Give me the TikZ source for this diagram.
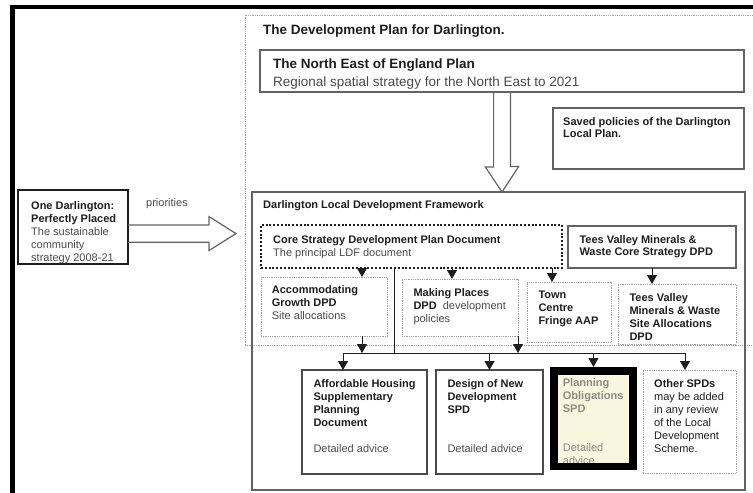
\documentclass[tikz,border=0pt]{standalone}
\usepackage{fontspec}
\setmainfont{Liberation Sans}
\usetikzlibrary{arrows.meta,backgrounds,positioning}
\definecolor{ink}{HTML}{1E1E1E}
\definecolor{softink}{HTML}{4A4A4A}
\definecolor{edgegray}{HTML}{636363}
\definecolor{darkedge}{HTML}{4A4A4A}
\definecolor{faintgray}{HTML}{A0A0A0}
\definecolor{cream}{HTML}{F8F6DF}
\definecolor{fadedink}{HTML}{8C8C80}

\begin{document}
\begin{tikzpicture}[%
    x=1pt, y=-1pt,
    wh/.style 2 args={minimum width=#1, minimum height=#2},
    anybox/.style={inner sep=0pt, outer sep=0pt, anchor=north west},
    solidbox/.style={anybox, draw=edgegray, line width=1.2pt},
    darkbox/.style={anybox, draw=darkedge, line width=1.3pt},
    faintbox/.style={anybox, draw=faintgray, line width=0.8pt, densely dotted},
    corebox/.style={anybox, draw=ink, line width=2.2pt, dash pattern=on 2pt off 1.8pt},
    heavybox/.style={anybox, draw=ink, line width=2pt},
    boxtext/.style={inner sep=0pt, align=left, text=ink, font=\fontsize{11}{13}\selectfont},
    boldtext/.style={boxtext, font=\fontsize{11}{13}\selectfont\bfseries},
    bigtext/.style={boxtext, font=\fontsize{13.5}{18}\selectfont},
    link/.style={draw=ink, line width=1pt},
    flow/.style={link, -{Triangle[width=10pt,length=9pt]}},
    hollow/.style={draw=edgegray, line width=1.2pt, line join=miter}
]
\useasboundingbox (0,0) rectangle (753,493);

% page frame
\draw[black, line width=4.5pt] (12.5,500) -- (12.5,7) -- (765,7);

% development plan
\node[faintbox, wh={520}{330}] (devplan) at (245,15) {};
\node[bigtext, font=\fontsize{13.5}{18}\selectfont\bfseries, below right=9.3pt and 18pt of devplan.north west] (devtitle) {The Development Plan for Darlington.};

\node[solidbox, wh={484}{42}] (nep) at (260,50) {};
\node[bigtext, below right=8.3pt and 13pt of nep.north west] (neptext) {\textbf{The North East of England Plan}\\\textcolor{softink}{Regional spatial strategy for the North East to 2021}};

\node[solidbox, wh={191}{61}] (saved) at (553,108) {};
\node[boldtext, font=\fontsize{11}{12}\selectfont\bfseries, below right=9.3pt and 10pt of saved.north west] (savedtext) {Saved policies of the Darlington\\Local Plan.};

% local development framework
\node[solidbox, wh={493}{298}] (ldf) at (252,192) {};
\node[boldtext, below right=8.7pt and 11pt of ldf.north west] (ldftext) {Darlington Local Development Framework};

\node[corebox, wh={301}{43}] (core) at (261,225) {};
\node[boxtext, below right=10.5pt and 12pt of core.north west] (coretext) {\textbf{Core Strategy Development Plan Document}\\\textcolor{softink}{The principal LDF document}};

\node[solidbox, wh={168}{42}] (tvc) at (568,226) {};
\node[boldtext, font=\fontsize{11}{12.4}\selectfont\bfseries, below right=9.4pt and 11.3pt of tvc.north west] (tvctext) {Tees Valley Minerals \&\\Waste Core Strategy DPD};

\node[faintbox, wh={126}{59}] (acc) at (261,277) {};
\node[boxtext, below right=8pt and 10.7pt of acc.north west] (acctext) {\textbf{Accommodating}\\\textbf{Growth DPD}\\\textcolor{softink}{Site allocations}};

\node[faintbox, wh={116}{57}] (mp) at (402,279) {};
\node[boxtext, below right=9.4pt and 11.3pt of mp.north west] (mptext) {\textbf{Making Places}\\\textbf{DPD}\ \ \textcolor{softink}{development}\\\textcolor{softink}{policies}};

\node[faintbox, wh={84}{60}] (tc) at (527,282) {};
\node[boldtext, below right=9pt and 11.3pt of tc.north west] (tctext) {Town\\Centre\\Fringe AAP};

\node[faintbox, wh={118}{60}] (tvs) at (618,284) {};
\node[boldtext, below right=9.4pt and 11.3pt of tvs.north west] (tvstext) {Tees Valley\\Minerals \& Waste\\Site Allocations\\DPD};

% supplementary planning documents
\node[darkbox, wh={125}{104}] (aff) at (302,370) {};
\node[boxtext, below right=9.4pt and 11.3pt of aff.north west] (afftext) {\textbf{Affordable Housing}\\\textbf{Supplementary}\\\textbf{Planning}\\\textbf{Document}\\[13pt]\textcolor{softink}{Detailed advice}};

\node[darkbox, wh={107}{104}] (des) at (436,370) {};
\node[boxtext, below right=9.4pt and 11.3pt of des.north west] (destext) {\textbf{Design of New}\\\textbf{Development}\\\textbf{SPD}\\[26pt]\textcolor{softink}{Detailed advice}};

\node[anybox, draw=black, line width=7.7pt, outer sep=3.85pt, wh={79.2}{95.5}] (pob) at (550,367) {};
\begin{scope}[on background layer]
\fill[cream] (pob.north west) rectangle (pob.south east);
\node[boxtext, text=fadedink, below right=11.8pt and 12.7pt of pob.north west] (pobtext) {\textbf{Planning}\\\textbf{Obligations}\\\textbf{SPD}\\[26pt]Detailed\\advice};
\end{scope}

\node[faintbox, wh={93}{103}] (oth) at (643,370) {};
\node[boxtext, below right=9.4pt and 11pt of oth.north west] (othtext) {\textbf{Other SPDs}\\may be added\\in any review\\of the Local\\Development\\Scheme.};

% community strategy
\node[heavybox, wh={110}{74}] (one) at (18,190) {};
\node[boxtext, below right=11pt and 13pt of one.north west] (onetext) {\textbf{One Darlington:}\\\textbf{Perfectly Placed}\\\textcolor{softink}{The sustainable}\\\textcolor{softink}{community}\\\textcolor{softink}{strategy 2008-21}};
\node[boxtext, text=softink, below right=8.6pt and 18pt of one.north east] (prio) {priorities};

% hollow arrows
\coordinate (pa) at ([yshift=-6.6pt]one.east);
\draw[hollow] ([yshift=8.6pt]pa) -- ++(81,0) -- ++(0,-8.4) -- ++(27,17) -- ++(-27,17) -- ++(0,-8.4) -- ([yshift=-8.6pt]pa);
\draw[hollow] ([xshift=-8.4pt]nep.south) -- ++(0,75) -- ++(-8.3,0) -- (nep.south |- ldf.north) -- ++(16.7,-25.6) -- ++(-8.3,0) -- ([xshift=8.4pt]nep.south);

% links
\coordinate (accin) at ([xshift=101pt]acc.north west);
\coordinate (mpin) at ([xshift=50pt]mp.north west);
\coordinate (tcin) at ([xshift=25pt]tc.north west);
\coordinate (coredrop) at ([xshift=133pt]core.south west);
\coordinate (busL) at (343,353);
\coordinate (busR) at (685,353);

\draw[flow] (accin |- core.south) -- (accin);
\draw[flow] (mpin |- core.south) -- (mpin);
\draw[flow] (tcin |- core.south) -- (tcin);
\draw[flow] (tvc.south) -- (tvc.south |- tvs.north);

\draw[link] (busL) -- (busR);
\draw[link] (coredrop) -- (coredrop |- busL);
\draw[flow] (accin |- acc.south) -- (accin |- busL);
\draw[flow] (mp.south east) -- (mp.south east |- busL);

\draw[flow] (busL) -- (busL |- aff.north);
\draw[flow] (des.north |- busL) -- (des.north);
\draw[flow] (pob.north |- busL) -- (pob.north);
\draw[flow] (busR) -- (busR |- oth.north);

\end{tikzpicture}
\end{document}
